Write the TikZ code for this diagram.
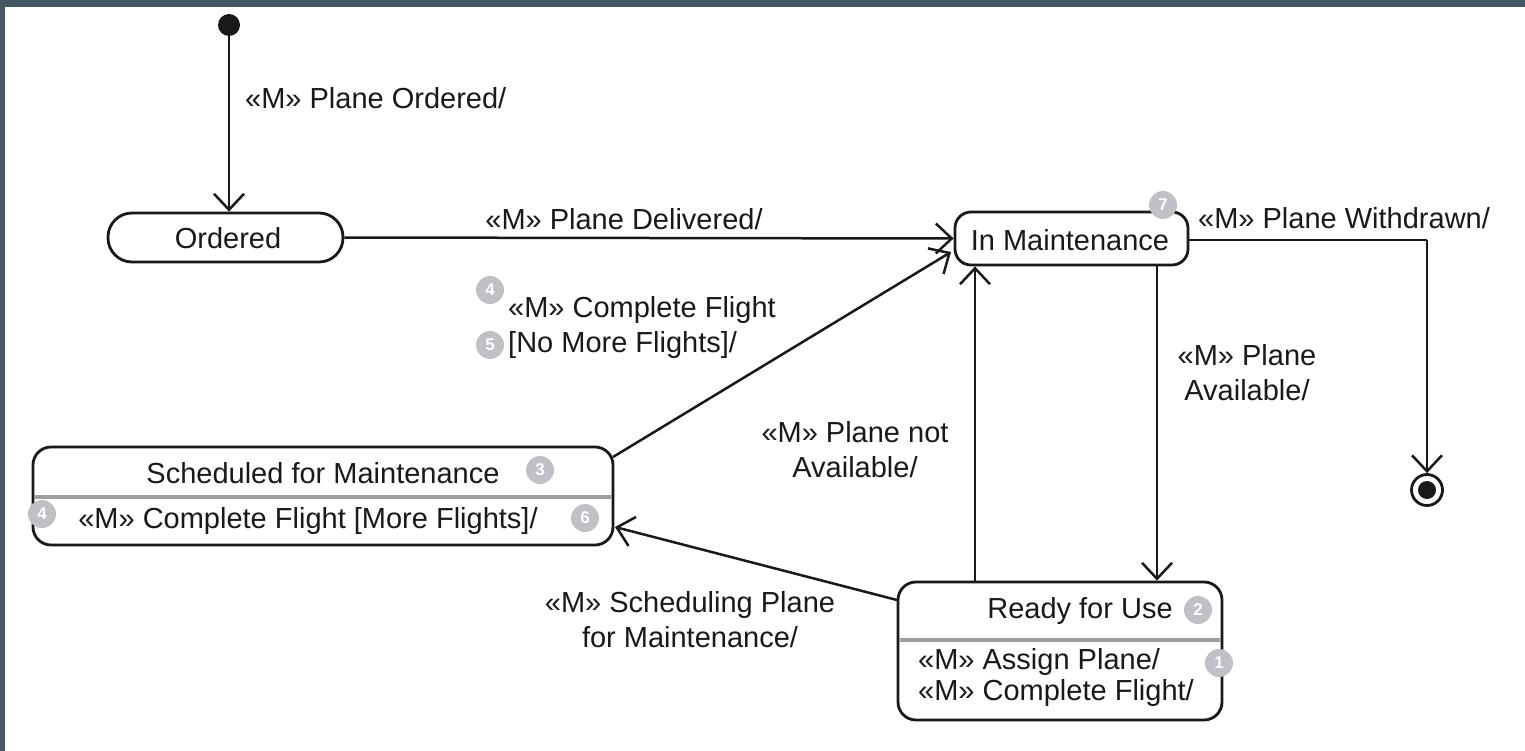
\documentclass[tikz,border=0pt]{standalone}
\usepackage{fontspec}
\setmainfont{Liberation Sans}
\usetikzlibrary{arrows.meta,calc}
\definecolor{frame}{RGB}{69,87,99}
\definecolor{badgegrey}{RGB}{192,192,198}
\definecolor{ink}{RGB}{25,25,25}
\begin{document}
\begin{tikzpicture}[x=1pt,y=-1pt,
  lbl/.style={font=\fontsize{29}{35}\selectfont, text=ink, inner sep=0},
  statebox/.style={draw=ink, line width=2.8pt, rounded corners=18pt, inner sep=0, fill=white},
  trans/.style={draw=ink, line width=2.5pt, -{Straight Barb[length=16pt,width=30pt]}},
  plain/.style={draw=ink, line width=2.5pt},
  badge/.style={circle, fill=badgegrey, minimum size=28pt, inner sep=0, text=white, font=\fontsize{17}{17}\selectfont\bfseries},
  divider/.style={draw=gray!75, line width=4.5pt}]
\useasboundingbox (0,0) rectangle (1525,751);
\fill[white] (0,0) rectangle (1525,751);
\fill[frame] (0,0) rectangle (1525,7);
\fill[frame] (0,0) rectangle (5,751);

% states
\node[circle, fill=ink, inner sep=0, minimum size=22pt] (init) at (229,25) {};
\node[statebox, rounded corners=24pt, minimum width=235pt, minimum height=49pt] (ordered) at (225.5,237.5) {};
\node[lbl] (orderedtxt) at (228,238) {Ordered};
\node[statebox, rounded corners=16pt, minimum width=233pt, minimum height=53pt] (inmaint) at (1071.5,238.5) {};
\node[lbl] (inmainttxt) at (1070,240) {In Maintenance};
\node[statebox, minimum width=580pt, minimum height=98pt] (sched) at (323,496) {};
\node[statebox, minimum width=324pt, minimum height=138pt] (ready) at (1060,651) {};
\node[circle, draw=ink, line width=2.8pt, minimum size=31pt, inner sep=0, fill=white] (final) at (1427,490) {};
\node[circle, fill=ink, inner sep=0, minimum size=18pt] (finaldot) at (final) {};

% compartments
\draw[divider] ($(sched.west)+(2,1)$) -- ($(sched.east)+(-2,1)$);
\node[lbl] (schedtitle) at (323,473) {Scheduled for Maintenance};
\node[lbl] (schedentry) at (308,521) {«M» Complete Flight [More Flights]/};
\draw[divider] ($(ready.west)+(2,-11)$) -- ($(ready.east)+(-2,-11)$);
\node[lbl] (readytitle) at (1080,611) {Ready for Use};
\node[lbl, anchor=west] (readyentry1) at (918,662) {«M» Assign Plane/};
\node[lbl, anchor=west] (readyentry2) at (918,693) {«M» Complete Flight/};

% badges
\node[badge] (b7) at (1163,205) {7};
\node[badge] (b4a) at (490,290) {4};
\node[badge] (b5) at (490,345) {5};
\node[badge] (b3) at (540,470) {3};
\node[badge] (b4b) at (42,514) {4};
\node[badge] (b6) at (585,518) {6};
\node[badge] (b2) at (1198,610) {2};
\node[badge] (b1) at (1219,663) {1};

% connectors
\coordinate (xavail) at (1157,0);
\coordinate (xnot) at (975,0);
\coordinate (withdrawcorner) at (1427,240);
\coordinate (schedout) at (613,457);
\coordinate (maintin) at (951,252);
\coordinate (readyout) at (897,600);
\coordinate (schedin) at (615,527);
\draw[trans] (init) -- (init |- ordered.north);
\draw[trans] (ordered.east) -- (inmaint.west);
\draw[plain] (inmaint.east |- withdrawcorner) -- (withdrawcorner);
\draw[trans] (withdrawcorner) -- (final.north);
\draw[trans] (xavail |- inmaint.south) -- (xavail |- ready.north);
\draw[trans] (xnot |- ready.north) -- (xnot |- inmaint.south);
\draw[trans] (schedout) -- (maintin);
\draw[trans] (readyout) -- (schedin);

% labels
\node[lbl, anchor=west] (lordered) at (245,98) {«M» Plane Ordered/};
\node[lbl] (ldelivered) at (624,219) {«M» Plane Delivered/};
\node[lbl, anchor=west] (lwithdrawn) at (1198,218) {«M» Plane Withdrawn/};
\node[lbl, anchor=west] (lcomplete1) at (508,310) {«M» Complete Flight};
\node[lbl, anchor=west] (lcomplete2) at (508,345) {[No More Flights]/};
\node[lbl, align=center] (lavail) at (1247,373) {«M» Plane\\Available/};
\node[lbl, align=center] (lnotavail) at (855,450) {«M» Plane not\\Available/};
\node[lbl, align=center] (lsched) at (690,620) {«M» Scheduling Plane\\for Maintenance/};
\end{tikzpicture}
\end{document}
